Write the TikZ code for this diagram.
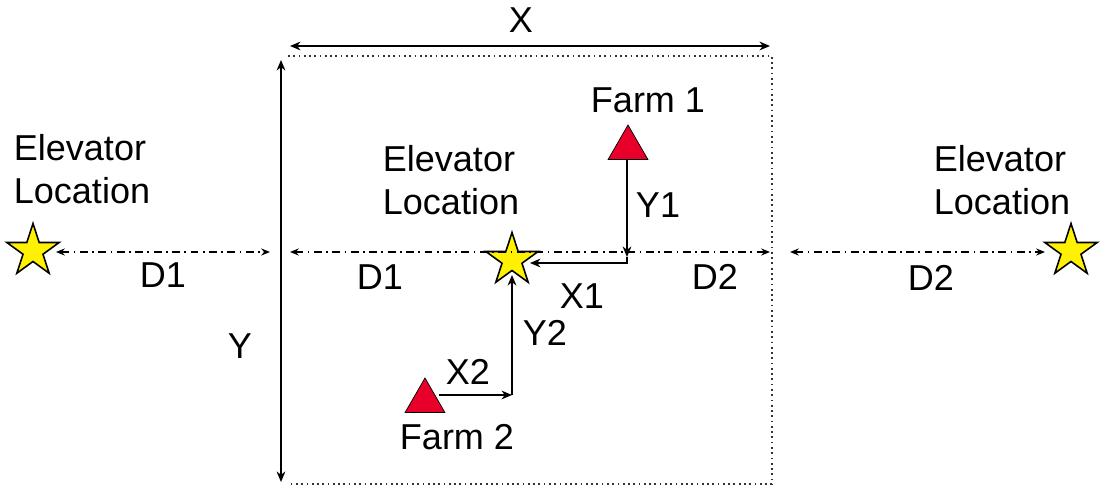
\documentclass[tikz,border=0pt]{standalone}
\usepackage{fontspec}
\setmainfont{Liberation Sans}
\usetikzlibrary{shapes.geometric,arrows.meta}
\definecolor{farmred}{RGB}{232,0,42}
\begin{document}
\begin{tikzpicture}[x=0.02cm,y=-0.02cm,
  lbl/.style={font=\fontsize{20.5}{24.5}\selectfont, inner sep=0pt},
  elev/.style={star, star points=5, star point ratio=2.62, draw, fill=yellow, minimum size=1.1cm, inner sep=0pt, line width=0.9pt},
  farm/.style={regular polygon, regular polygon sides=3, draw, fill=farmred, minimum size=0.92cm, inner sep=0pt, line width=0.4pt},
  dim/.style={line width=0.9pt, {Stealth[length=6pt,width=5pt]}-{Stealth[length=6pt,width=5pt]}},
  leg/.style={line width=0.9pt, -{Stealth[length=6pt,width=5pt]}},
  dist/.style={line width=0.8pt, dash pattern=on 4.5pt off 2.5pt on 1pt off 2.5pt, {Stealth[length=5pt,width=4pt]}-{Stealth[length=5pt,width=4pt]}},
  edge/.style={gray!40!black, line width=1pt, dotted}]
\useasboundingbox (0,0) rectangle (1100,489);
% region
\draw[edge] (288,56) -- (772,56) -- (772,484) -- (290,484);
\coordinate (xl) at (290,46);
\coordinate (xr) at (770,46);
\coordinate (yt) at (281,60);
\coordinate (yb) at (281,482);
\draw[dim] (xl) -- (xr);
\draw[dim] (yt) -- (yb);
\node[lbl] (xlab) at (521,20) {X};
\node[lbl] (ylab) at (240,346) {Y};
% elevators
\node[elev] (s1) at (33,251) {};
\node[elev] (s2) at (512,260) {};
\node[elev] (s3) at (1071,251) {};
\node[lbl, align=left] (e1) at (82,169) {Elevator\\Location};
\node[lbl, align=left] (e2) at (451,180) {Elevator\\Location};
\node[lbl, align=left] (e3) at (1002,180) {Elevator\\Location};
% distances
\coordinate (d1a) at (56,252);
\coordinate (d1b) at (270,252);
\coordinate (d2a) at (290,252);
\coordinate (d2b) at (770,252);
\coordinate (d3a) at (790,252);
\coordinate (d3b) at (1045,252);
\draw[dist] (d1a) -- (d1b);
\draw[dist] (d2a) -- (d2b);
\draw[dist] (d3a) -- (d3b);
\node[lbl] (dl1) at (163,275) {D1};
\node[lbl] (dl2) at (380,277) {D1};
\node[lbl] (dl3) at (715,277) {D2};
\node[lbl] (dl4) at (931,278) {D2};
% farms
\node[farm] (f1) at (628,148) {};
\node[farm] (f2) at (425,401) {};
\node[lbl] (fl1) at (648,100) {Farm 1};
\node[lbl] (fl2) at (457,437) {Farm 2};
\coordinate (c1) at (627,257);
\coordinate (x1e) at (530,263);
\coordinate (c2) at (512,395);
\coordinate (y2e) at (512,275);
\draw[leg] (f1.south -| c1) -- (c1);
\draw[leg] (c1) |- (x1e);
\draw[leg] (f2.east |- c2) -- (c2);
\draw[leg] (c2) -- (y2e);
\node[lbl] (ly1) at (658,205) {Y1};
\node[lbl] (lx1) at (582,296) {X1};
\node[lbl] (lx2) at (468,372) {X2};
\node[lbl] (ly2) at (545,333) {Y2};
\end{tikzpicture}
\end{document}
